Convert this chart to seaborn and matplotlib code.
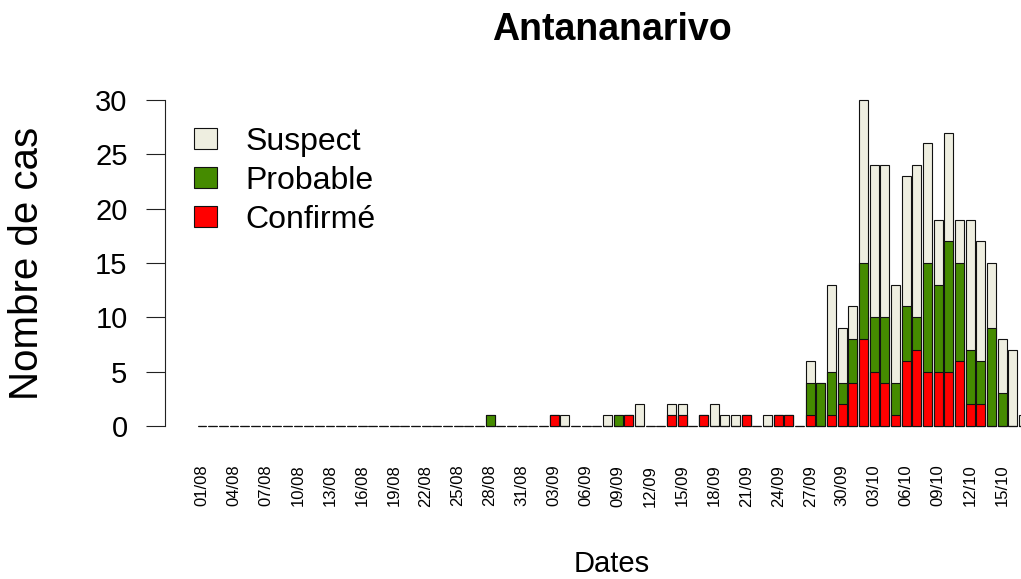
import pandas as pd
import seaborn as sns
import matplotlib.pyplot as plt
from matplotlib.patches import Patch

# Daily case counts, 01/08 to 17/10
confirmed_aug = [0] * 31
confirmed_sep = [0, 0, 1, 0, 0, 0, 0, 0, 0, 1, 0, 0, 0, 1, 1, 0, 1, 0, 0, 0,
                 1, 0, 0, 1, 1, 0, 1, 0, 1, 2]
confirmed_oct = [4, 8, 5, 4, 1, 6, 7, 5, 5, 5, 6, 2, 2, 0, 0, 0, 0]

probable_aug = [0] * 27 + [1, 0, 0, 0]
probable_sep = [0, 0, 0, 0, 0, 0, 0, 0, 1, 0, 0, 0, 0, 0, 0, 0, 0, 0, 0, 0,
                0, 0, 0, 0, 0, 0, 3, 4, 4, 2]
probable_oct = [4, 7, 5, 6, 3, 5, 3, 10, 8, 12, 9, 5, 4, 9, 3, 0, 0]

suspect_aug = [0] * 31
suspect_sep = [0, 0, 0, 1, 0, 0, 0, 1, 0, 0, 2, 0, 0, 1, 1, 0, 0, 2, 1, 1,
               0, 0, 1, 0, 0, 0, 2, 0, 8, 5]
suspect_oct = [3, 15, 14, 14, 9, 12, 14, 11, 6, 10, 4, 12, 11, 6, 5, 7, 1]

dates = pd.date_range('2017-08-01', '2017-10-17').strftime('%d/%m').tolist()

confirmed = confirmed_aug + confirmed_sep + confirmed_oct
probable = probable_aug + probable_sep + probable_oct
suspect = suspect_aug + suspect_sep + suspect_oct

df = pd.DataFrame({'date': dates, 'Confirmé': confirmed,
                   'Probable': probable, 'Suspect': suspect})
df['cp'] = df['Confirmé'] + df['Probable']
df['total'] = df['cp'] + df['Suspect']

col_susp = '#EEEEE0'
col_prob = '#458B00'
col_conf = '#FF0000'

sns.set_style('white')
plt.rcParams['font.family'] = ['Liberation Sans', 'DejaVu Sans']
plt.rcParams['text.color'] = 'black'
plt.rcParams['xtick.color'] = 'black'
plt.rcParams['ytick.color'] = 'black'
plt.rcParams['axes.labelcolor'] = 'black'

fig = plt.figure(figsize=(10.21, 5.79), dpi=100)
ax = fig.add_axes([165 / 1021, 0.2549, 1 - 165 / 1021, 0.8366 - 0.2549])

bar_kw = dict(width=0.833, edgecolor='#111111', linewidth=0.8,
              saturation=1, errorbar=None, ax=ax)
sns.barplot(data=df, x='date', y='total', color=col_susp, **bar_kw)
sns.barplot(data=df, x='date', y='cp', color=col_prob, **bar_kw)
sns.barplot(data=df, x='date', y='Confirmé', color=col_conf, **bar_kw)

ax.set_xlabel('')
ax.set_ylabel('')
ax.set_xlim(-3.47, 76.76)
ax.set_ylim(-0.5, 30.5)

ax.set_xticks(range(0, len(dates), 3))
ax.set_xticklabels(dates[::3], rotation=90, fontsize=12)
ax.tick_params(axis='x', length=0, pad=24)

ax.set_yticks(range(0, 31, 5))
ax.tick_params(axis='y', length=13.5, width=0.8, pad=13.5, labelsize=21,
               direction='out', left=True, color='#222222')

for side in ['top', 'right', 'bottom']:
    ax.spines[side].set_visible(False)
ax.spines['left'].set_bounds(0, 30)
ax.spines['left'].set_linewidth(0.8)
ax.spines['left'].set_color('#222222')

fig.text(612 / 1021, 1 - 40 / 579, 'Antananarivo', ha='center',
         va='baseline', fontsize=27, fontweight='bold')
fig.text(612 / 1021, 1 - 572 / 579, 'Dates', ha='center', va='baseline',
         fontsize=21)
fig.text(27 / 1021, 1 - 263 / 579, 'Nombre de cas', ha='center',
         va='center', rotation=90, fontsize=29)

handles = [Patch(facecolor=c, edgecolor='#111111', linewidth=0.8)
           for c in [col_susp, col_prob, col_conf]]
fig.legend(handles, ['Suspect', 'Probable', 'Confirmé'], loc='upper left',
           bbox_to_anchor=(194 / 1021, 1 - 127 / 579), frameon=False,
           fontsize=23, handlelength=0.72, handleheight=0.63,
           handletextpad=0.9, labelspacing=0.28, borderpad=0,
           borderaxespad=0)

fig.savefig('out.png', dpi=100)
plt.close(fig)
